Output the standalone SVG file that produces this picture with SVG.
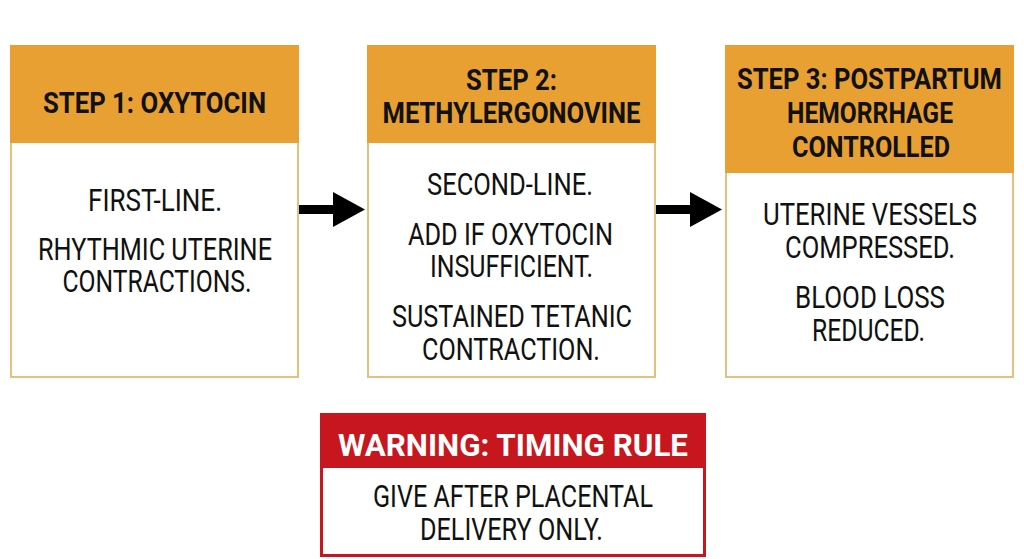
<svg xmlns="http://www.w3.org/2000/svg" width="1024" height="559" viewBox="0 0 1024 559">
<style>
.box{fill:#ffffff;stroke:#e2c07e;stroke-width:2}
.hdr{fill:#e8a032}
.ht{font-family:Roboto,"Liberation Sans",sans-serif;font-weight:bold;font-size:29px;fill:#111111;text-anchor:middle}
.bt{font-family:Roboto,"Liberation Sans",sans-serif;font-size:31px;fill:#111111;text-anchor:middle}
.wbox{fill:#ffffff;stroke:#c8161e;stroke-width:3}
.whdr{fill:#c8161e}
.wt{font-family:Roboto,"Liberation Sans",sans-serif;font-weight:bold;font-size:31px;fill:#ffffff;text-anchor:middle}
.arrow{fill:#000000}
</style>
<rect width="1024" height="559" fill="#ffffff"/>
<g id="step1">
<rect class="box" x="11" y="46" width="287" height="331"/>
<rect class="hdr" x="10" y="45" width="289" height="98"/>
<text class="ht" x="154.5" y="113" textLength="223" lengthAdjust="spacingAndGlyphs">STEP 1: OXYTOCIN</text>
<text class="bt" x="155" y="211" textLength="134" lengthAdjust="spacingAndGlyphs">FIRST-LINE.</text>
<text class="bt" x="155" y="260" textLength="234" lengthAdjust="spacingAndGlyphs">RHYTHMIC UTERINE</text>
<text class="bt" x="157" y="292" textLength="189" lengthAdjust="spacingAndGlyphs">CONTRACTIONS.</text>
</g>
<g id="step2">
<rect class="box" x="368" y="46" width="287" height="331"/>
<rect class="hdr" x="367" y="45" width="289" height="98"/>
<text class="ht" x="511.5" y="90" textLength="91" lengthAdjust="spacingAndGlyphs">STEP 2:</text>
<text class="ht" x="511.5" y="123" textLength="258" lengthAdjust="spacingAndGlyphs">METHYLERGONOVINE</text>
<text class="bt" x="510" y="195" textLength="166" lengthAdjust="spacingAndGlyphs">SECOND-LINE.</text>
<text class="bt" x="510.5" y="245" textLength="205" lengthAdjust="spacingAndGlyphs">ADD IF OXYTOCIN</text>
<text class="bt" x="511.5" y="277" textLength="163" lengthAdjust="spacingAndGlyphs">INSUFFICIENT.</text>
<text class="bt" x="512" y="327" textLength="240" lengthAdjust="spacingAndGlyphs">SUSTAINED TETANIC</text>
<text class="bt" x="511" y="360" textLength="178" lengthAdjust="spacingAndGlyphs">CONTRACTION.</text>
</g>
<g id="step3">
<rect class="box" x="726" y="46" width="287" height="331"/>
<rect class="hdr" x="725" y="45" width="289" height="128"/>
<text class="ht" x="869.5" y="89" textLength="265" lengthAdjust="spacingAndGlyphs">STEP 3: POSTPARTUM</text>
<text class="ht" x="870" y="123" textLength="166" lengthAdjust="spacingAndGlyphs">HEMORRHAGE</text>
<text class="ht" x="871" y="157" textLength="158" lengthAdjust="spacingAndGlyphs">CONTROLLED</text>
<text class="bt" x="870" y="225" textLength="214" lengthAdjust="spacingAndGlyphs">UTERINE VESSELS</text>
<text class="bt" x="870" y="258" textLength="170" lengthAdjust="spacingAndGlyphs">COMPRESSED.</text>
<text class="bt" x="870" y="308" textLength="150" lengthAdjust="spacingAndGlyphs">BLOOD LOSS</text>
<text class="bt" x="868.5" y="341" textLength="113" lengthAdjust="spacingAndGlyphs">REDUCED.</text>
</g>
<g id="warning">
<rect class="wbox" x="321.5" y="414.5" width="383" height="141"/>
<rect class="whdr" x="320" y="413" width="386" height="55"/>
<text class="wt" x="513" y="456" textLength="350" lengthAdjust="spacingAndGlyphs">WARNING: TIMING RULE</text>
<text class="bt" x="513" y="507" textLength="280" lengthAdjust="spacingAndGlyphs">GIVE AFTER PLACENTAL</text>
<text class="bt" x="511.5" y="540" textLength="183" lengthAdjust="spacingAndGlyphs">DELIVERY ONLY.</text>
</g>
<g id="connectors">
<path class="arrow" d="M299,205 L333,205 L333,192 L365,209.5 L333,227 L333,214 L299,214 Z"/>
<path class="arrow" d="M656,205 L690,205 L690,192 L722,209.5 L690,227 L690,214 L656,214 Z"/>
</g>
</svg>
